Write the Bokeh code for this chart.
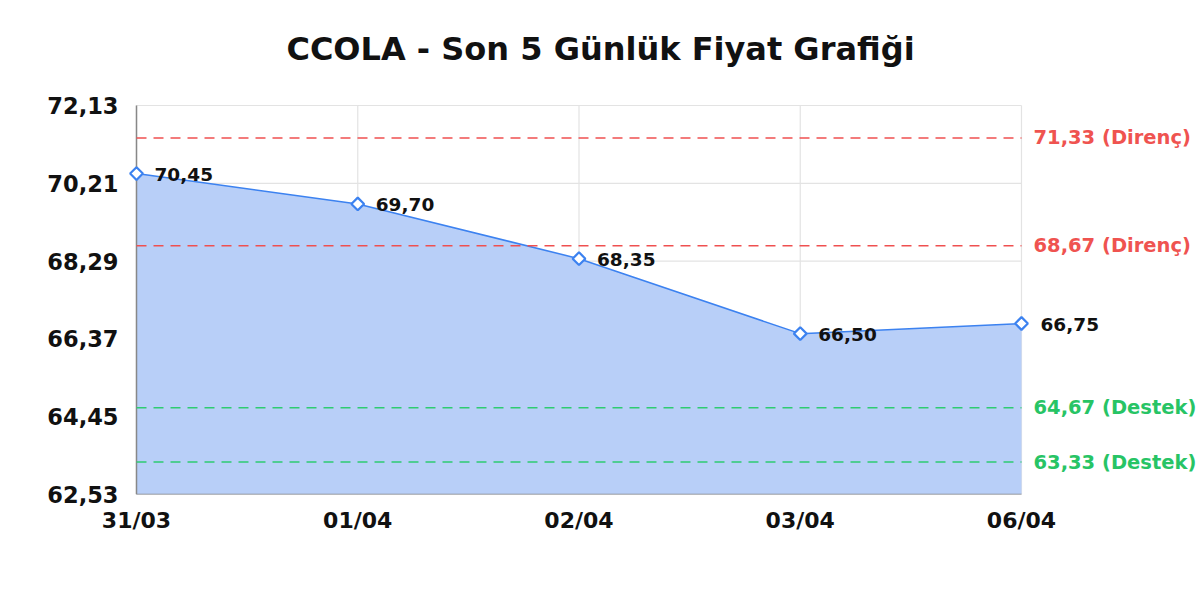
import math
from bokeh.plotting import figure
from bokeh.models import Range1d, FixedTicker, Label
from bokeh.embed import file_html
from bokeh.resources import INLINE

dates = ["31/03", "01/04", "02/04", "03/04", "06/04"]
prices = [70.45, 69.70, 68.35, 66.50, 66.75]
y_ticks = [62.53, 64.45, 66.37, 68.29, 70.21, 72.13]
resistance = [71.33, 68.67]
support = [64.67, 63.33]
title_text = "CCOLA - Son 5 Günlük Fiyat Grafiği"

FONT = "DejaVu Sans"
def fmt(v):
    return f"{v:.2f}".replace(".", ",")

W, H = 1200, 600
PLOT_L, PLOT_R = 136, 1021      # pixel extent of the data area (x = first..last date)
PLOT_T, PLOT_B = 105, 494       # pixel extent of the data area (y = min..max tick)
PAD_L = 10                      # extra frame space left of first date
TITLE_Y = 48                    # pixel centre of title
x = list(range(len(dates)))
n = len(dates) - 1
ymin, ymax = y_ticks[0], y_ticks[-1]
ppu = (PLOT_R - PLOT_L) / n
ppy = (PLOT_B - PLOT_T) / (ymax - ymin)
x_start = -PAD_L / ppu
x_end = n + (W - PLOT_R) / ppu
y_end = ymax + PLOT_T / ppy

p = figure(width=W, height=H, output_backend="svg", toolbar_location=None,
           x_range=Range1d(x_start, x_end), y_range=Range1d(ymin, y_end),
           min_border_left=PLOT_L - PAD_L, min_border_right=0, min_border_top=0,
           min_border_bottom=H - PLOT_B)
p.outline_line_color = None
p.background_fill_color = "white"
p.border_fill_color = "white"

p.add_layout(Label(x=(W / 2 - PLOT_L) / ppu, y=ymax + (PLOT_T - TITLE_Y) / ppy,
                   text=title_text, text_align="center", text_baseline="middle",
                   text_font=FONT, text_font_size="32px", text_font_style="bold",
                   text_color="#111111"))

p.xaxis.ticker = FixedTicker(ticks=x)
p.xaxis.major_label_overrides = {i: d for i, d in enumerate(dates)}
p.yaxis.ticker = FixedTicker(ticks=y_ticks)
p.yaxis.major_label_overrides = {v: fmt(v) for v in y_ticks}
for ax in (p.xaxis, p.yaxis):
    ax.major_tick_out = 0
    ax.major_tick_in = 0
    ax.minor_tick_out = 0
    ax.minor_tick_in = 0
    ax.axis_line_color = None
    ax.major_label_text_font = FONT
    ax.major_label_text_font_style = "bold"
    ax.major_label_text_color = "#111111"
p.yaxis.major_label_text_font_size = "22.5px"
p.xaxis.major_label_text_font_size = "22px"
p.yaxis.major_label_standoff = 8
p.xaxis.major_label_standoff = 13
p.grid.grid_line_color = None

# grid lines limited to the data area
p.segment(x0=[0] * len(y_ticks), y0=y_ticks, x1=[n] * len(y_ticks), y1=y_ticks,
          line_color="#e3e3e3", line_width=1.2)
p.segment(x0=x, y0=[ymin] * len(x), x1=x, y1=[ymax] * len(x),
          line_color="#e3e3e3", line_width=1.2)

p.varea(x=x, y1=[ymin] * len(x), y2=prices, fill_color="#b8cff8", fill_alpha=1.0)
p.line(x, prices, line_color="#3c82f0", line_width=1.5)

# axis lines
p.line([0, 0], [ymin, ymax], line_color="#888888", line_width=1.5)
p.line([0, n], [ymin, ymin], line_color="#888888", line_width=1.5)

for lv in resistance:
    p.line([0, n], [lv, lv], line_color="#ef5050", line_width=1.5, line_dash="10 7")
    p.add_layout(Label(x=n, y=lv, text=f"{fmt(lv)} (Direnç)", x_offset=12,
                       text_font=FONT, text_font_size="19.5px", text_font_style="bold",
                       text_color="#ef5350", text_baseline="middle"))
for lv in support:
    p.line([0, n], [lv, lv], line_color="#2ecc71", line_width=1.5, line_dash="10 7")
    p.add_layout(Label(x=n, y=lv, text=f"{fmt(lv)} (Destek)", x_offset=12,
                       text_font=FONT, text_font_size="19.5px", text_font_style="bold",
                       text_color="#27c465", text_baseline="middle"))

p.scatter(x, prices, marker="square", size=9, angle=math.pi / 4, fill_color="white",
          line_color="#3c82f0", line_width=2.2)

for xi, v in zip(x, prices):
    off = 18 if xi < n else 19
    p.add_layout(Label(x=xi, y=v, text=fmt(v), x_offset=off, y_offset=-1,
                       text_font=FONT, text_font_size="18.5px", text_font_style="bold",
                       text_color="#111111", text_baseline="middle"))

open("out.html", "w").write(file_html(p, INLINE))
